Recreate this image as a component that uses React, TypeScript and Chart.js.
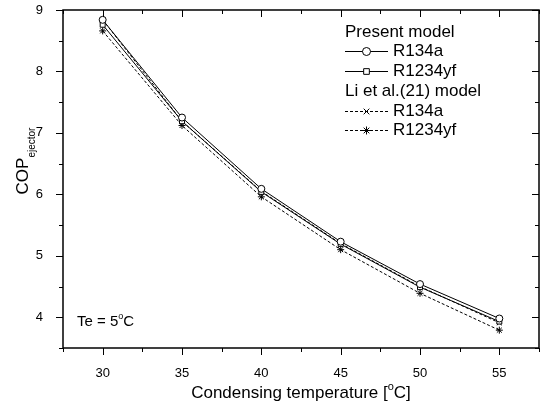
import React, { useEffect, useRef } from "react";
import { Chart, registerables } from "chart.js";
import { drawPoint } from "chart.js/helpers";

Chart.register(...registerables);

const temperatures = [30, 35, 40, 45, 50, 55];
const presentR134a = [8.84, 7.25, 6.09, 5.23, 4.54, 3.98];
const presentR1234yf = [8.76, 7.19, 6.04, 5.19, 4.49, 3.93];
const liR134a = [8.84, 7.19, 6.05, 5.2, 4.5, 3.91];
const liR1234yf = [8.66, 7.12, 5.96, 5.1, 4.39, 3.79];

const xMajorTicks = [30, 35, 40, 45, 50, 55];
const xMinorTicks = [27.5, 32.5, 37.5, 42.5, 47.5, 52.5, 57.5];
const yMajorTicks = [4, 5, 6, 7, 8, 9];
const yMinorTicks = [3.5, 4.5, 5.5, 6.5, 7.5, 8.5];

const FONT = "'Liberation Sans', Arial, sans-serif";

type SeriesStyle = { label: string; data: number[]; style: string; dash: number[] };

const seriesList: SeriesStyle[] = [
  { label: "R134a", data: presentR134a, style: "circle", dash: [] },
  { label: "R1234yf", data: presentR1234yf, style: "rect", dash: [] },
  { label: "R134a", data: liR134a, style: "crossRot", dash: [3, 2] },
  { label: "R1234yf", data: liR1234yf, style: "star", dash: [3, 2] },
];

function drawSup(ctx: CanvasRenderingContext2D, parts: [string, boolean][], x: number, y: number, size: number) {
  let cx = x;
  for (const [t, sup] of parts) {
    if (sup) {
      ctx.font = `${Math.round(size * 0.62)}px ${FONT}`;
      ctx.fillText(t, cx, y - size * 0.38);
    } else {
      ctx.font = `${size}px ${FONT}`;
      ctx.fillText(t, cx, y);
    }
    cx += ctx.measureText(t).width;
  }
}

function measureParts(ctx: CanvasRenderingContext2D, parts: [string, boolean][], size: number) {
  let w = 0;
  for (const [t, sup] of parts) {
    ctx.font = sup ? `${Math.round(size * 0.62)}px ${FONT}` : `${size}px ${FONT}`;
    w += ctx.measureText(t).width;
  }
  return w;
}

const decorPlugin = {
  id: "decor",
  afterDraw(chart: any) {
    const ctx: CanvasRenderingContext2D = chart.ctx;
    const { left, right, top, bottom } = chart.chartArea;
    const xs = chart.scales.x;
    const ys = chart.scales.y;
    ctx.save();
    ctx.strokeStyle = "#000";
    ctx.fillStyle = "#000";
    ctx.lineWidth = 1.5;
    ctx.setLineDash([]);
    ctx.strokeRect(left, top, right - left, bottom - top);

    ctx.lineWidth = 1;
    const major = 7;
    const minor = 4;
    ctx.beginPath();
    for (const v of xMajorTicks) {
      const p = Math.round(xs.getPixelForValue(v)) + 0.5;
      ctx.moveTo(p, bottom); ctx.lineTo(p, bottom + major);
      ctx.moveTo(p, top); ctx.lineTo(p, top + major);
    }
    for (const v of xMinorTicks) {
      const p = Math.round(xs.getPixelForValue(v)) + 0.5;
      ctx.moveTo(p, bottom); ctx.lineTo(p, bottom + minor);
      ctx.moveTo(p, top); ctx.lineTo(p, top + minor);
    }
    for (const v of yMajorTicks) {
      const p = Math.round(ys.getPixelForValue(v)) + 0.5;
      ctx.moveTo(left, p); ctx.lineTo(left - major, p);
      ctx.moveTo(right, p); ctx.lineTo(right - major, p);
    }
    for (const v of yMinorTicks) {
      const p = Math.round(ys.getPixelForValue(v)) + 0.5;
      ctx.moveTo(left, p); ctx.lineTo(left - minor, p);
      ctx.moveTo(right, p); ctx.lineTo(right - minor, p);
    }
    ctx.stroke();

    // X title
    ctx.textBaseline = "middle";
    ctx.textAlign = "left";
    const xt: [string, boolean][] = [["Condensing temperature [", false], ["o", true], ["C]", false]];
    const xw = measureParts(ctx, xt, 17);
    drawSup(ctx, xt, (left + right) / 2 - xw / 2, 393, 17);

    // Y title
    ctx.save();
    ctx.translate(23, 161);
    ctx.rotate(-Math.PI / 2);
    ctx.font = `17px ${FONT}`;
    const w1 = ctx.measureText("COP").width;
    ctx.font = `10px ${FONT}`;
    const w2 = ctx.measureText("ejector").width;
    const tot = w1 + w2;
    ctx.font = `17px ${FONT}`;
    ctx.fillText("COP", -tot / 2, 0);
    ctx.font = `10px ${FONT}`;
    ctx.fillText("ejector", -tot / 2 + w1, 9);
    ctx.restore();

    // Te label
    const tl: [string, boolean][] = [["Te = 5", false], ["o", true], ["C", false]];
    drawSup(ctx, tl, 77, 322, 15);

    // Legend
    ctx.font = `17px ${FONT}`;
    ctx.fillText("Present model", 345, 32);
    ctx.fillText("Li et al.(21) model", 345, 91);
    const rows = [51, 71, 111, 130];
    seriesList.forEach((s, i) => {
      const y = rows[i];
      ctx.save();
      ctx.lineWidth = 1;
      ctx.setLineDash(s.dash);
      ctx.beginPath();
      ctx.moveTo(345, y + 0.5);
      ctx.lineTo(388, y + 0.5);
      ctx.stroke();
      ctx.setLineDash([]);
      ctx.fillStyle = "#fff";
      ctx.strokeStyle = "#000";
      drawPoint(ctx, { pointStyle: s.style as any, radius: 4, borderWidth: 1, rotation: 0 } as any, 366.5, y + 0.5);
      ctx.restore();
      ctx.fillStyle = "#000";
      ctx.font = `17px ${FONT}`;
      ctx.fillText(s.label, 393, y);
    });
    ctx.restore();
  },
};

export default function App() {
  const ref = useRef<HTMLCanvasElement | null>(null);
  useEffect(() => {
    if (!ref.current) return;
    const chart = new Chart(ref.current, {
      type: "line",
      data: {
        datasets: seriesList.map((s) => ({
          label: s.label,
          data: temperatures.map((t, i) => ({ x: t, y: s.data[i] })),
          borderColor: "#000",
          backgroundColor: "#fff",
          borderWidth: 1,
          borderDash: s.dash,
          pointStyle: s.style as any,
          pointRadius: 3.5,
          pointBorderWidth: 1,
          pointBorderColor: "#000",
          pointBackgroundColor: "#fff",
          tension: 0,
          fill: false,
        })),
      },
      plugins: [decorPlugin],
      options: {
        responsive: false,
        animation: false,
        layout: { padding: { top: 10, right: 4, left: 0, bottom: 0 } },
        plugins: { legend: { display: false }, tooltip: { enabled: false } },
        scales: {
          x: {
            type: "linear",
            min: 27.5,
            max: 57.5,
            afterBuildTicks: (scale: any) => {
              scale.ticks = xMajorTicks.map((v) => ({ value: v }));
            },
            afterFit: (scale: any) => {
              scale.height = 60;
              scale.paddingLeft = 0;
              scale.paddingRight = 0;
            },
            grid: { display: false, drawOnChartArea: false },
            border: { display: false },
            ticks: { color: "#000", font: { family: FONT, size: 13 }, padding: 10, maxRotation: 0, autoSkip: false },
          },
          y: {
            type: "linear",
            min: 3.5,
            max: 9,
            afterBuildTicks: (scale: any) => {
              scale.ticks = yMajorTicks.map((v) => ({ value: v }));
            },
            afterFit: (scale: any) => {
              scale.width = 63;
              scale.paddingTop = 0;
              scale.paddingBottom = 0;
            },
            grid: { display: false, drawOnChartArea: false },
            border: { display: false },
            ticks: { color: "#000", font: { family: FONT, size: 13 }, padding: 12, autoSkip: false },
          },
        },
      },
    });
    return () => chart.destroy();
  }, []);
  return (
    <div style={{ position: "absolute", left: 0, top: 0, width: 544, height: 408, background: "#fff" }}>
      <canvas ref={ref} width={544} height={408} style={{ display: "block" }} />
    </div>
  );
}
